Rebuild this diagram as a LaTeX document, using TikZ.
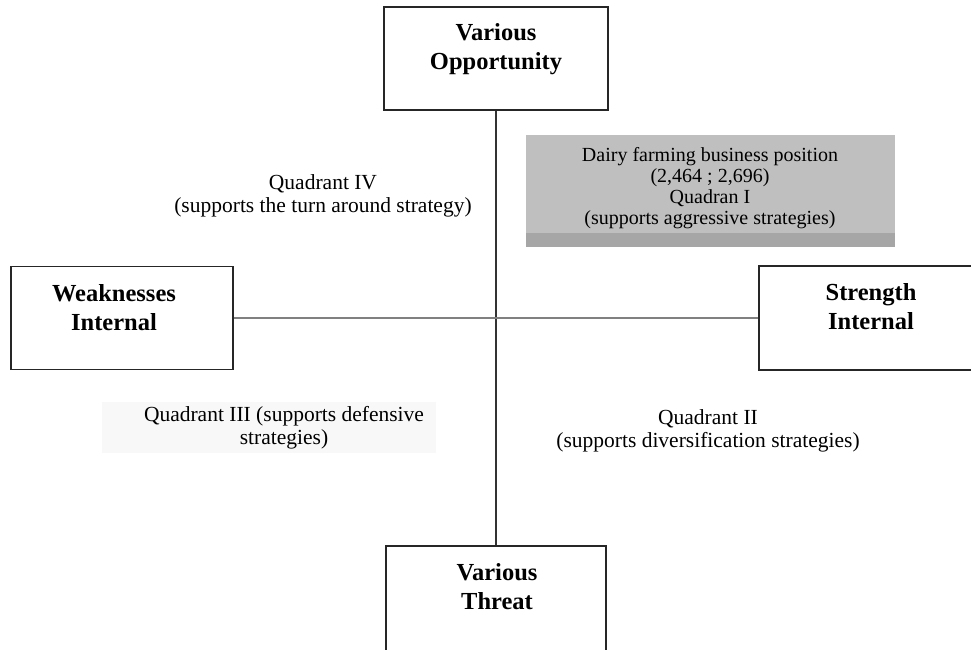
\documentclass[tikz,border=0pt]{standalone}
\usepackage{fontspec}
\setmainfont{Liberation Serif}
\definecolor{posgray}{HTML}{BFBFBF}
\definecolor{stripgray}{HTML}{A6A6A6}
\definecolor{faintgray}{HTML}{F8F8F8}
\begin{document}
\begin{tikzpicture}[x=1pt,y=-1pt,
  box/.style={draw=black!85, line width=1.3pt, rectangle, inner sep=0pt},
  title/.style={font=\bfseries\fontsize{24.5}{29.5}\selectfont, align=center, inner sep=0pt, anchor=north},
  qtext/.style={font=\fontsize{21.5}{23}\selectfont, align=center, inner sep=0pt, anchor=north},
  ptext/.style={font=\fontsize{20}{21}\selectfont, align=center, inner sep=0pt, anchor=north},
  vaxis/.style={line width=1.4pt, draw=black!80},
  haxis/.style={line width=1.6pt, draw=black!50}]
\useasboundingbox (0,0) rectangle (971,649);
\clip (0,0) rectangle (971,649);
\fill[white] (0,0) rectangle (971,649);

% boxes
\node[box, minimum width=224pt, minimum height=103pt] (opp) at (496,58.5) {};
\node[box, minimum width=222pt, minimum height=103pt] (weak) at (122,318) {};
\node[box, minimum width=222pt, minimum height=104pt] (str) at (870,318) {};
\node[box, minimum width=220pt, minimum height=120pt] (thr) at (496,606) {};

% titles
\node[title] (oppt) at (496,23) {Various\\Opportunity};
\node[title] (weakt) at (114,284) {Weaknesses\\Internal};
\node[title] (strt) at (871,283) {Strength\\Internal};
\node[title] (thrt) at (497,563) {Various\\Threat};

% axes
\draw[vaxis] (opp.south) -- (thr.north);
\draw[haxis] (weak.east) -- (str.west);

% position box
\node[fill=posgray, inner sep=0pt, minimum width=369pt, minimum height=112pt] (pos) at (710.5,191) {};
\fill[stripgray] (526,233) rectangle (895,247);
\node[ptext] (post) at (710,147) {Dairy farming business position\\(2,464 ; 2,696)\\Quadran I\\(supports aggressive strategies)};

% quadrant labels
\node[qtext] (q4) at (323,174) {Quadrant IV\\(supports the turn around strategy)};
\node[fill=faintgray, inner sep=0pt, minimum width=334pt, minimum height=51pt] (q3bg) at (269,427.5) {};
\node[qtext] (q3) at (284,406) {Quadrant III (supports defensive\\strategies)};
\node[qtext] (q2) at (708,409) {Quadrant II\\(supports diversification strategies)};
\end{tikzpicture}
\end{document}
